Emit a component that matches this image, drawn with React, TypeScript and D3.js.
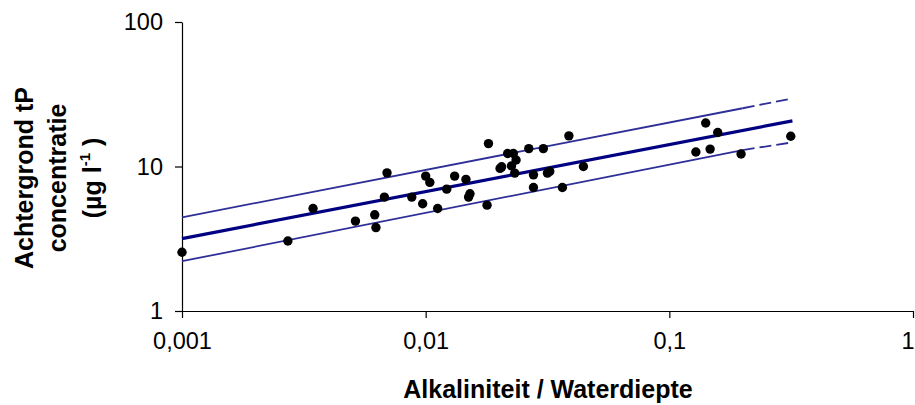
import React, { useRef, useEffect } from "react";
import * as d3 from "d3";

// measurements: alkalinity / water depth vs background total P
const alkDepth = [
  0.001, 0.00272, 0.00345, 0.00515, 0.00618, 0.00625, 0.00677, 0.00694, 0.00877, 0.00972,
  0.01, 0.0104, 0.0112, 0.0122, 0.01315, 0.01463, 0.0152, 0.015, 0.01786, 0.0181,
  0.0202, 0.0205, 0.0217, 0.0229, 0.0225, 0.0235, 0.0232, 0.0265, 0.0277, 0.0277,
  0.0304, 0.0316, 0.0323, 0.0364, 0.0387, 0.0444, 0.1285, 0.141, 0.147, 0.158,
  0.197, 0.315,
];
const tpConc = [
  2.55, 3.05, 5.12, 4.19, 4.63, 3.78, 6.14, 9.04, 6.14, 5.52,
  8.58, 7.76, 5.12, 6.97, 8.58, 8.14, 6.47, 6.14, 5.4, 14.4,
  9.7, 9.95, 12.3, 12.3, 10.1, 11.1, 9.0, 13.3, 8.76, 7.16,
  13.3, 9.0, 9.25, 7.16, 16.3, 10.0, 12.6, 20.0, 13.2, 17.2,
  12.2, 16.2,
];

// regression line and its bands (solid part, then dashed tail)
const fitX = [0.001, 0.32];
const fitY = [3.17, 20.7];
const bandX = [0.001, 0.2, 0.32];
const upperY = [4.45, 25.3, 29.6];
const lowerY = [2.21, 13.0, 14.7];

const xTicks = [0.001, 0.01, 0.1, 1];
const xTickLabels = ["0,001", "0,01", "0,1", "1"];
const yTicks = [1, 10, 100];
const yTickLabels = ["1", "10", "100"];

const W = 915;
const H = 405;
const left = 182;
const right = 913;
const top = 22;
const bottom = 311;
const font = "'Liberation Sans', Arial, sans-serif";

export default function App() {
  const svgRef = useRef<SVGSVGElement>(null);

  useEffect(() => {
    const svg = d3.select(svgRef.current);
    svg.selectAll("*").remove();

    const x = d3.scaleLog().domain([0.001, 1]).range([left, right]);
    const y = d3.scaleLog().domain([1, 100]).range([bottom, top]);

    // axes
    const xAxis = svg
      .append("g")
      .attr("transform", `translate(0,${bottom})`)
      .call(d3.axisBottom(x).tickValues(xTicks).tickSize(7).tickSizeOuter(0).tickFormat((d, i) => xTickLabels[i]));
    xAxis.select(".domain").attr("stroke", "#000").attr("stroke-width", 1.2);
    xAxis.selectAll("line").attr("stroke", "#000").attr("stroke-width", 1.2);
    xAxis.selectAll("text").attr("font-family", font).attr("font-size", 23.5).attr("fill", "#000").attr("dy", "1.2em");
    xAxis
      .selectAll<SVGTextElement, number>("text")
      .filter((d) => d === 1)
      .attr("text-anchor", "end")
      .attr("x", 1);

    const yAxis = svg
      .append("g")
      .attr("transform", `translate(${left},0)`)
      .call(d3.axisLeft(y).tickValues(yTicks).tickSize(7).tickSizeOuter(0).tickFormat((d, i) => yTickLabels[i]));
    yAxis.select(".domain").attr("stroke", "#000").attr("stroke-width", 1.2);
    yAxis.selectAll("line").attr("stroke", "#000").attr("stroke-width", 1.2);
    yAxis.selectAll("text").attr("font-family", font).attr("font-size", 23.5).attr("fill", "#000").attr("x", -19);

    const line = d3
      .line<[number, number]>()
      .x((d) => x(d[0]))
      .y((d) => y(d[1]));

    // bands
    [upperY, lowerY].forEach((ys) => {
      const pts: [number, number][] = bandX.map((v, i) => [v, ys[i]]);
      svg.append("path").attr("d", line(pts.slice(0, 2))).attr("fill", "none").attr("stroke", "#2e2e98").attr("stroke-width", 1.8);
      svg
        .append("path")
        .attr("d", line(pts.slice(1)))
        .attr("fill", "none")
        .attr("stroke", "#2e2e98")
        .attr("stroke-width", 1.8)
        .attr("stroke-dasharray", "12,5");
    });

    // fit
    svg
      .append("path")
      .attr("d", line(fitX.map((v, i) => [v, fitY[i]] as [number, number])))
      .attr("fill", "none")
      .attr("stroke", "#000080")
      .attr("stroke-width", 3.2);

    // points
    svg
      .append("g")
      .selectAll("circle")
      .data(alkDepth)
      .join("circle")
      .attr("cx", (d) => x(d))
      .attr("cy", (d, i) => y(tpConc[i]))
      .attr("r", 4.7)
      .attr("fill", "#000");

    // axis titles
    svg
      .append("text")
      .attr("x", 548)
      .attr("y", 398)
      .attr("text-anchor", "middle")
      .attr("font-family", font)
      .attr("font-weight", "bold")
      .attr("font-size", 25)
      .text("Alkaliniteit / Waterdiepte");

    const yt = svg
      .append("text")
      .attr("transform", "translate(0,178) rotate(-90)")
      .attr("text-anchor", "middle")
      .attr("font-family", font)
      .attr("font-weight", "bold")
      .attr("font-size", 25);
    yt.append("tspan").attr("x", 0).attr("y", 33).text("Achtergrond tP");
    yt.append("tspan").attr("x", 0).attr("y", 66).text("concentratie");
    const t3 = yt.append("tspan").attr("x", 0).attr("y", 101);
    t3.append("tspan").text("(µg l");
    t3.append("tspan").attr("font-size", 15).attr("dy", -11).text("-1");
    t3.append("tspan").attr("dy", 11).text(" )");
  }, []);

  return (
    <svg
      ref={svgRef}
      width={W}
      height={H}
      style={{ position: "absolute", left: 0, top: 0, background: "#fff" }}
    />
  );
}
